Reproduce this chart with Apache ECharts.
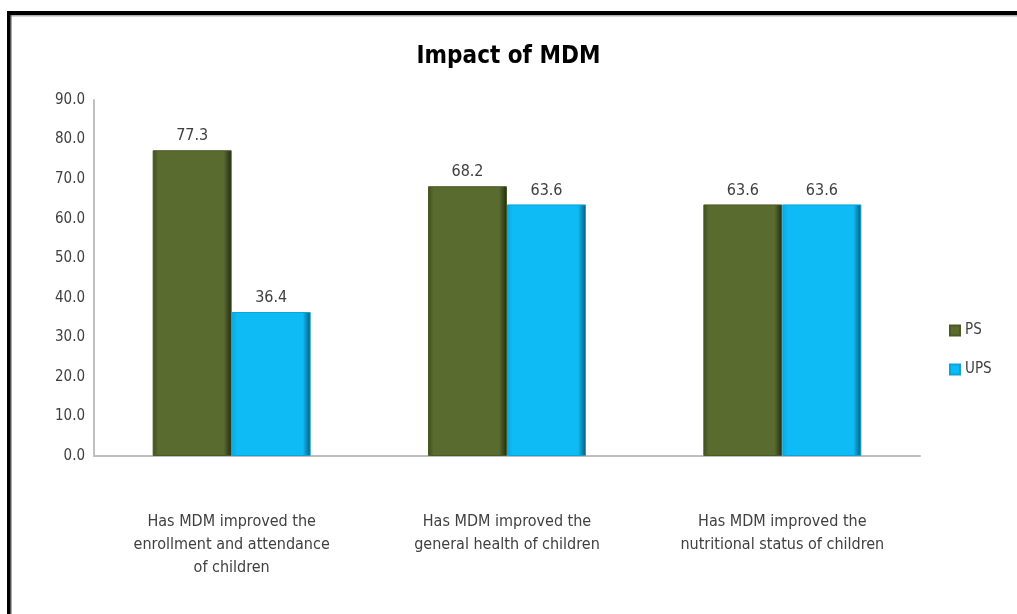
<!DOCTYPE html>
<html>
<head>
<meta charset="utf-8">
<script src="https://cdn.jsdelivr.net/npm/echarts@6/dist/echarts.min.js"></script>
<style>
html,body{margin:0;padding:0;background:#fff;}
#c{width:1017px;height:614px;}
</style>
</head>
<body>
<div id="c"></div>
<script>
const categories = [
  "Has MDM improved the\nenrollment and attendance\nof children",
  "Has MDM improved the\ngeneral health of children",
  "Has MDM improved the\nnutritional status of children"
];
const psValues = [77.3, 68.2, 63.6];
const upsValues = [36.4, 63.6, 63.6];
const seriesNames = ["PS", "UPS"];
const yMin = 0, yMax = 90, yStep = 10;

const FONT = "'Liberation Sans Narrow', 'DejaVu Sans Condensed', 'Liberation Sans', sans-serif";

function grad(edgeL, main, edgeR) {
  return new echarts.graphic.LinearGradient(0, 0, 1, 0, [
    {offset: 0, color: edgeL},
    {offset: 0.07, color: main},
    {offset: 0.9, color: main},
    {offset: 1, color: edgeR}
  ]);
}

const chart = echarts.init(document.getElementById('c'), null, {renderer: 'canvas'});
chart.setOption({
  backgroundColor: '#ffffff',
  animation: false,
  title: {
    text: 'Impact of MDM',
    left: 'center',
    top: 40,
    padding: [5, 0, 5, 12],
    textStyle: {fontFamily: FONT, fontSize: 24, fontWeight: 'bold', color: '#000'}
  },
  legend: {
    orient: 'vertical',
    left: 944,
    top: 318,
    itemGap: 24,
    itemWidth: 10,
    itemHeight: 10,
    icon: 'rect',
    textStyle: {fontFamily: FONT, fontSize: 15, color: '#404040'},
    data: seriesNames
  },
  grid: {left: 94, right: 97, top: 100, bottom: 158, containLabel: false},
  xAxis: {
    type: 'category',
    data: categories,
    axisLine: {show: true, lineStyle: {color: '#BFBFBF', width: 2}},
    axisTick: {show: false},
    axisLabel: {
      interval: 0,
      margin: 54,
      fontFamily: FONT,
      fontSize: 16,
      lineHeight: 23,
      color: '#404040',
      verticalAlign: 'top'
    }
  },
  yAxis: {
    type: 'value',
    min: yMin,
    max: yMax,
    interval: yStep,
    axisLine: {show: true, lineStyle: {color: '#BFBFBF', width: 2}},
    axisTick: {show: false},
    splitLine: {show: false},
    axisLabel: {
      margin: 9,
      fontFamily: FONT,
      fontSize: 15,
      color: '#404040',
      formatter: v => v.toFixed(1)
    }
  },
  series: [
    {
      name: seriesNames[0],
      type: 'bar',
      data: psValues,
      barWidth: 79,
      barGap: '0%',
      itemStyle: {
        color: grad('#3E4C1C', '#5A6B30', '#1F2810'),
        borderColor: '#4A5A24',
        borderWidth: 1
      },
      label: {
        show: true, position: 'top', distance: 6,
        fontFamily: FONT, fontSize: 16, color: '#404040',
        formatter: p => p.value.toFixed(1)
      }
    },
    {
      name: seriesNames[1],
      type: 'bar',
      data: upsValues,
      barWidth: 79,
      itemStyle: {
        color: grad('#0FA6DC', '#0EBBF5', '#075A7C'),
        borderColor: '#0AA4DA',
        borderWidth: 1
      },
      label: {
        show: true, position: 'top', distance: 6,
        fontFamily: FONT, fontSize: 16, color: '#404040',
        formatter: p => p.value.toFixed(1)
      }
    }
  ],
  graphic: [
    {type: 'rect', shape: {x: 7, y: 11, width: 1010, height: 4}, style: {fill: '#000'}, silent: true, z: 100},
    {type: 'rect', shape: {x: 10, y: 15, width: 1007, height: 1.5}, style: {fill: '#B0B0B0'}, silent: true, z: 100},
    {type: 'rect', shape: {x: 7, y: 11, width: 3, height: 603}, style: {fill: '#000'}, silent: true, z: 100},
    {type: 'rect', shape: {x: 10, y: 15, width: 1.5, height: 599}, style: {fill: '#555'}, silent: true, z: 100}
  ]
});
</script>
</body>
</html>
